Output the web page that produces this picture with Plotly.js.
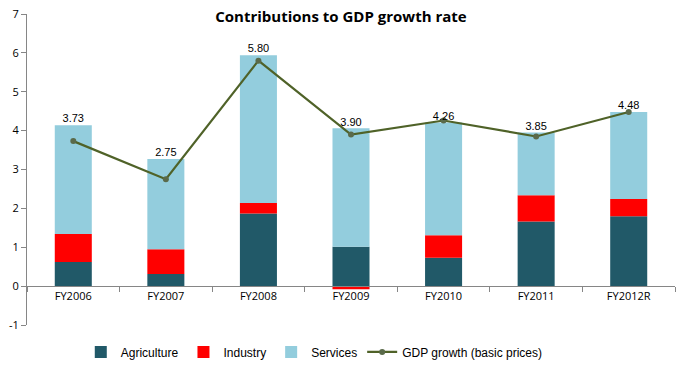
<!DOCTYPE html>
<html>
<head>
<meta charset="utf-8">
<script src="https://cdn.plot.ly/plotly-3.0.1.min.js"></script>
<style>html,body{margin:0;padding:0;background:#fff;}#chart{width:682px;height:365px;}</style>
</head>
<body>
<div id="chart"></div>
<script>
const categories = ["FY2006","FY2007","FY2008","FY2009","FY2010","FY2011","FY2012R"];
const agriculture = [0.62, 0.31, 1.87, 1.01, 0.73, 1.66, 1.80];
const industry    = [0.72, 0.64, 0.27, -0.08, 0.58, 0.68, 0.44];
const services    = [2.80, 2.32, 3.80, 3.05, 2.90, 1.61, 2.24];
const gdpGrowth   = [3.73, 2.75, 5.80, 3.90, 4.26, 3.85, 4.48];
const yTicks = [-1,0,1,2,3,4,5,6,7];

const stackTop = categories.map((c,i)=>Math.max(0,agriculture[i])+Math.max(0,industry[i])+Math.max(0,services[i]));
const labelFont = {family:"Liberation Sans, Arial, sans-serif", size:11, color:"#000"};
const tickFont = {family:"Open Sans, Liberation Sans, sans-serif", size:11, color:"#000"};

const traces = [
  {type:"bar", name:"Agriculture", x:categories, y:agriculture, marker:{color:"#215968"}, width:0.4, hoverinfo:"none"},
  {type:"bar", name:"Industry", x:categories, y:industry, marker:{color:"#FF0000"}, width:0.4, hoverinfo:"none"},
  {type:"bar", name:"Services", x:categories, y:services, marker:{color:"#93CDDD"}, width:0.4, hoverinfo:"none"},
  {type:"scatter", mode:"lines+markers", name:"GDP growth (basic prices)", x:categories, y:gdpGrowth,
   line:{color:"#4F6228", width:2.2}, marker:{color:"#5A6A4A", size:6}, hoverinfo:"none"},
  {type:"scatter", mode:"text", x:categories, y:stackTop, text:gdpGrowth.map(v=>v.toFixed(2)),
   textposition:"top center", textfont:labelFont, showlegend:false, hoverinfo:"none"}
];

const layout = {
  width:682, height:365,
  margin:{l:27, r:7, t:14, b:40, autoexpand:false},
  paper_bgcolor:"#fff", plot_bgcolor:"#fff",
  barmode:"relative",
  bargap:0.6,
  title:{text:"<b>Contributions to GDP growth rate</b>", x:0.5, xanchor:"center", y:0.955, yanchor:"middle",
         font:{family:"Open Sans, Liberation Sans, sans-serif", size:15, color:"#000"}},
  xaxis:{type:"category", anchor:"free", position:0.125, showline:true, linecolor:"#868686", linewidth:1,
         ticks:"outside", tickson:"boundaries", ticklen:5, tickcolor:"#868686",
         tickfont:tickFont, showgrid:false, zeroline:false, fixedrange:true, automargin:false},
  yaxis:{range:[-1,7], tickvals:yTicks, ticktext:yTicks.map(String), showline:true, linecolor:"#868686", linewidth:1,
         ticks:"outside", ticklen:5, tickcolor:"#868686", tickfont:tickFont,
         showgrid:false, zeroline:false, fixedrange:true, automargin:false},
  legend:{orientation:"h", x:0.083, xanchor:"left", y:-0.04, yanchor:"top",
          font:{family:"Liberation Sans, Arial, sans-serif", size:12, color:"#000"},
          itemwidth:30, traceorder:"normal"},
  showlegend:true
};

Plotly.newPlot("chart", traces, layout, {displayModeBar:false, staticPlot:true});
</script>
</body>
</html>
